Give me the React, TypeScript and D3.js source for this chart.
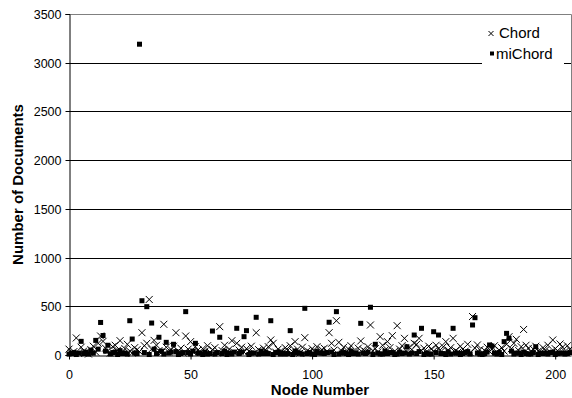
import { useEffect, useRef } from 'react';
import * as d3 from 'd3';

// values, one per node (0..206)
const chordValues = [
  60, 20, 35, 175, 15, 80, 40, 25, 10, 55,
  90, 30, 120, 195, 140, 70, 45, 20, 85, 100,
  50, 147, 30, 65, 110, 40, 20, 75, 55, 35,
  229, 95, 120, 570, 60, 150, 100, 45, 25, 315,
  80, 30, 55, 90, 229, 40, 70, 20, 195, 60,
  137, 35, 85, 50, 25, 65, 40, 95, 30, 55,
  75, 20, 291, 45, 100, 35, 60, 147, 25, 120,
  50, 80, 30, 65, 40, 90, 20, 229, 55, 35,
  70, 45, 85, 154, 120, 30, 60, 40, 25, 75,
  50, 95, 35, 137, 60, 20, 80, 178, 45, 30,
  65, 40, 85, 25, 55, 70, 35, 229, 120, 50,
  352, 130, 45, 80, 30, 60, 95, 40, 25, 70,
  144, 55, 35, 85, 308, 45, 65, 30, 188, 100,
  50, 137, 75, 198, 40, 301, 60, 95, 171, 35,
  80, 55, 120, 110, 171, 45, 70, 30, 90, 60,
  40, 100, 65, 35, 85, 137, 50, 75, 171, 45,
  30, 90, 60, 40, 110, 25, 395, 70, 103, 55,
  20, 45, 80, 35, 60, 95, 30, 50, 75, 40,
  110, 188, 65, 120, 161, 45, 85, 262, 100, 69,
  35, 60, 90, 40, 25, 75, 50, 100, 30, 154,
  65, 45, 113, 80, 35, 95, 60,
];

const miChordValues = [
  10, 15, 25, 5, 20, 140, 15, 30, 10, 50,
  20, 150, 60, 334, 200, 40, 100, 10, 25, 30,
  5, 45, 15, 20, 10, 352, 164, 20, 15, 3190,
  557, 25, 496, 5, 328, 60, 15, 182, 40, 10,
  130, 20, 30, 110, 35, 5, 15, 25, 445, 25,
  10, 40, 120, 20, 20, 5, 30, 10, 15, 246,
  10, 25, 182, 15, 40, 5, 20, 10, 30, 274,
  15, 30, 188, 250, 5, 20, 20, 387, 10, 40,
  15, 25, 15, 352, 5, 25, 30, 10, 20, 10,
  15, 250, 5, 40, 20, 20, 10, 479, 15, 25,
  10, 5, 35, 20, 20, 15, 25, 336, 30, 5,
  445, 10, 20, 25, 15, 5, 40, 15, 20, 10,
  325, 20, 15, 30, 490, 5, 110, 20, 10, 10,
  40, 15, 25, 25, 5, 10, 30, 15, 20, 85,
  10, 20, 205, 15, 35, 274, 5, 20, 10, 10,
  239, 25, 205, 15, 15, 5, 30, 10, 274, 20,
  20, 5, 15, 25, 35, 10, 308, 383, 20, 10,
  5, 15, 30, 103, 92, 20, 10, 25, 5, 137,
  222, 171, 40, 10, 20, 20, 5, 30, 15, 10,
  10, 25, 85, 5, 20, 15, 20, 10, 25, 30,
  5, 15, 20, 20, 10, 15, 25,
];

const yTicks = [0, 500, 1000, 1500, 2000, 2500, 3000, 3500];
const xTicks = [0, 50, 100, 150, 200];
const seriesNames = ['Chord', 'miChord'];

const FONT = '"Liberation Sans", Arial, sans-serif';

export default function App() {
  const svgRef = useRef<SVGSVGElement>(null);
  const width = 572;
  const height = 398;

  useEffect(() => {
    const root = d3.select(svgRef.current);
    root.selectAll('*').remove();

    const left = 69, right = 571, top = 14, bottom = 355;

    const x = d3.scaleLinear().domain([0, 206.5]).range([left, right]);
    const y = d3.scaleLinear().domain([0, 3500]).range([bottom, top]);
    const snap = (v: number) => Math.round(v) + 0.5;

    // gridlines
    root.append('g')
      .selectAll('line')
      .data(yTicks.filter(t => t > 0 && t < 3500))
      .enter()
      .append('line')
      .attr('x1', left).attr('x2', right)
      .attr('y1', d => snap(y(d))).attr('y2', d => snap(y(d)))
      .attr('stroke', '#000')
      .attr('stroke-width', 1);

    // plot border (top + right)
    root.append('path')
      .attr('d', `M${left},${snap(y(3500))}H${snap(right)}V${snap(y(0))}`)
      .attr('fill', 'none')
      .attr('stroke', '#808080');

    // y axis
    const yAxis = root.append('g')
      .attr('transform', `translate(${snap(left)},0)`)
      .call(d3.axisLeft(y).tickValues(yTicks).tickSize(4).tickPadding(4).tickFormat(d3.format('d')));
    yAxis.select('.domain').attr('stroke', '#000');
    yAxis.selectAll('text').attr('font-family', FONT).attr('font-size', '12.5px').attr('fill', '#000');
    yAxis.selectAll('.tick line').attr('stroke', '#000');
    yAxis.selectAll('.tick').attr('transform', (d: any) => `translate(0,${snap(y(d))})`);

    // x axis
    const xAxis = root.append('g')
      .attr('transform', `translate(0,${snap(bottom)})`)
      .call(d3.axisBottom(x).tickValues(xTicks).tickSize(4).tickSizeOuter(0).tickPadding(11));
    xAxis.select('.domain').attr('stroke', '#000');
    xAxis.selectAll('text').attr('font-family', FONT).attr('font-size', '12.5px').attr('fill', '#000');
    xAxis.selectAll('.tick line').attr('stroke', '#000');

    // miChord squares
    const sq = 5;
    root.append('g')
      .selectAll('rect')
      .data(miChordValues)
      .enter()
      .append('rect')
      .attr('x', (d, i) => x(i) - sq / 2)
      .attr('y', d => y(d) - sq / 2)
      .attr('width', sq)
      .attr('height', sq)
      .attr('fill', '#000');

    // Chord crosses
    const cs = 3.5;
    root.append('g')
      .selectAll('path')
      .data(chordValues)
      .enter()
      .append('path')
      .attr('d', (d, i) => {
        const cx = x(i), cy = y(d);
        return `M${cx - cs},${cy - cs}L${cx + cs},${cy + cs}M${cx - cs},${cy + cs}L${cx + cs},${cy - cs}`;
      })
      .attr('stroke', '#000')
      .attr('stroke-width', 1)
      .attr('fill', 'none');

    // legend
    const legend = root.append('g');
    legend.append('rect')
      .attr('x', 482).attr('y', 20)
      .attr('width', 82).attr('height', 45)
      .attr('fill', '#fff');
    const rows = legend.selectAll('g.row')
      .data(seriesNames)
      .enter()
      .append('g')
      .attr('class', 'row')
      .attr('transform', (d, i) => `translate(0,${32.5 + i * 21})`);
    rows.append('text')
      .attr('x', (d, i) => (i === 0 ? 499 : 496))
      .attr('y', 0)
      .attr('dy', '0.35em')
      .attr('font-family', FONT)
      .attr('font-size', '15px')
      .text(d => d);
    rows.filter((d, i) => i === 0)
      .append('path')
      .attr('d', 'M488.5,31L493.5,36M488.5,36L493.5,31')
      .attr('transform', 'translate(0,-32.5)')
      .attr('stroke', '#000')
      .attr('fill', 'none');
    rows.filter((d, i) => i === 1)
      .append('rect')
      .attr('x', 490).attr('y', -2)
      .attr('width', 4).attr('height', 4)
      .attr('fill', '#000');

    // axis titles
    root.append('text')
      .attr('x', (left + right) / 2)
      .attr('y', 395)
      .attr('text-anchor', 'middle')
      .attr('font-family', FONT)
      .attr('font-size', '15px')
      .attr('font-weight', 'bold')
      .text('Node Number');

    root.append('text')
      .attr('transform', `translate(23,${(top + bottom) / 2}) rotate(-90)`)
      .attr('text-anchor', 'middle')
      .attr('font-family', FONT)
      .attr('font-size', '15px')
      .attr('font-weight', 'bold')
      .text('Number of Documents');
  }, []);

  return (
    <>
      <style>{`body{margin:0}`}</style>
      <svg ref={svgRef} width={width} height={height} style={{ display: 'block', background: '#fff' }}></svg>
    </>
  );
}
